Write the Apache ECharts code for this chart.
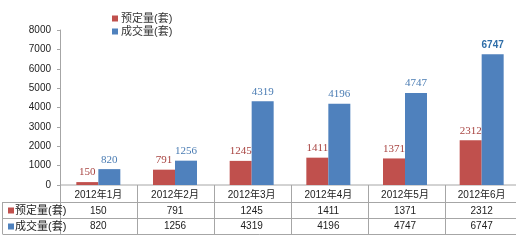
<!DOCTYPE html>
<html><head><meta charset="utf-8">
<script src="https://cdn.jsdelivr.net/npm/echarts@6/dist/echarts.min.js"></script>
<style>html,body{margin:0;padding:0;background:#fff}#c{width:520px;height:240px}</style>
</head><body><div id="c"></div>
<script>
const categories = ['2012年1月','2012年2月','2012年3月','2012年4月','2012年5月','2012年6月'];
const seriesNames = ['预定量(套)','成交量(套)'];
const booked = [150, 791, 1245, 1411, 1371, 2312];
const traded = [820, 1256, 4319, 4196, 4747, 6747];
const yTicks = [0,1000,2000,3000,4000,5000,6000,7000,8000];

const RED = '#C0504D', BLUE = '#4F81BD', LINE = '#a6a6a6';
const FONT = '"Liberation Sans","Noto Sans CJK SC",sans-serif';
const GL = 60, GW = 462, GT = 30, GH = 155;
const axisY = GT + GH;
const rowLines = [axisY + 17, axisY + 33, axisY + 49];

const chart = echarts.init(document.getElementById('c'), null, {renderer:'canvas'});

const graphics = [];
graphics.push({type:'line', shape:{x1:GL, y1:axisY, x2:516, y2:axisY}, style:{stroke:LINE, lineWidth:1}, silent:true});
rowLines.forEach(y => graphics.push({type:'line', shape:{x1:2.5, y1:y+0.5, x2:516, y2:y+0.5}, style:{stroke:LINE, lineWidth:1}, silent:true}));
graphics.push({type:'line', shape:{x1:2.5, y1:rowLines[0], x2:2.5, y2:rowLines[2]}, style:{stroke:LINE, lineWidth:1}, silent:true});
for (let k = 0; k < categories.length; k++) {
  const x = Math.round(GL + k * GW / categories.length) + 0.5;
  graphics.push({type:'line', shape:{x1:x, y1:axisY, x2:x, y2:rowLines[2]}, style:{stroke:LINE, lineWidth:1}, silent:true});
}
[RED, BLUE].forEach((col, i) => {
  const yc = (rowLines[i] + rowLines[i+1]) / 2 + 0.5;
  graphics.push({type:'rect', shape:{x:8, y:yc-3, width:6, height:6}, style:{fill:col}, silent:true});
  graphics.push({type:'text', x:15, y:yc, style:{text:seriesNames[i], fontSize:11, fill:'#222', fontFamily:FONT, verticalAlign:'middle', align:'left'}, silent:true});
});

const tableAxis = (data, offset) => ({
  type:'category', data: data.map(String), gridIndex:0, position:'bottom', offset: offset,
  axisLine:{show:false}, axisTick:{show:false},
  axisLabel:{show:true, interval:0, fontSize:10, color:'#222', fontFamily:FONT, margin:4}
});

chart.setOption({
  animation:false,
  backgroundColor:'#fff',
  legend:{
    orient:'vertical', left:107, top:8, itemGap:2, itemWidth:6, itemHeight:6, icon:'rect',
    textStyle:{fontSize:11, color:'#333', fontFamily:FONT, padding:[0,0,0,-2]},
    data: seriesNames
  },
  grid:{left:GL, top:GT, width:GW, height:GH, containLabel:false},
  xAxis:[
    {type:'category', data:categories, position:'bottom',
     axisLine:{show:false}, axisTick:{show:false},
     axisLabel:{interval:0, fontSize:10, color:'#222', fontFamily:FONT, margin:5}},
    tableAxis(booked, 17),
    tableAxis(traded, 32)
  ],
  yAxis:{
    type:'value', min:yTicks[0], max:yTicks[yTicks.length-1], interval:1000,
    axisLine:{show:true, lineStyle:{color:LINE}},
    axisTick:{show:true, length:3, lineStyle:{color:LINE}},
    axisLabel:{fontSize:10, color:'#222', fontFamily:FONT, margin:9, formatter: v => String(v)},
    splitLine:{show:false}
  },
  series:[
    {name:seriesNames[0], type:'bar', data:booked, barWidth:22, barGap:'0%',
     itemStyle:{color:RED},
     label:{show:true, position:'top', distance:4, fontSize:11, color:'#A84340', fontFamily:'"Liberation Serif",serif'}},
    {name:seriesNames[1], type:'bar', data:traded.map((v,i)=> i===traded.length-1 ?
        {value:v, label:{fontWeight:'bold', fontSize:10, color:'#2F6EA8', fontFamily:FONT}} : v),
     barWidth:22, itemStyle:{color:BLUE},
     label:{show:true, position:'top', distance:4, fontSize:11, color:'#4A7CB3', fontFamily:'"Liberation Serif",serif'}}
  ],
  graphic: graphics
});
</script></body></html>
